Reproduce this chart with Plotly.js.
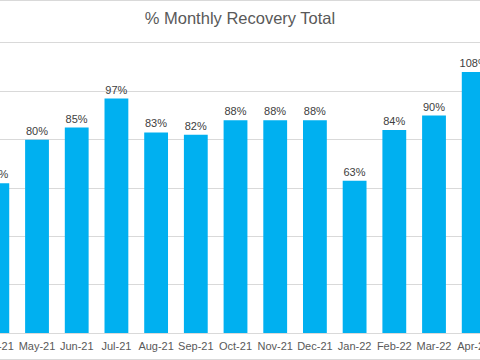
<!DOCTYPE html>
<html>
<head>
<meta charset="utf-8">
<script src="https://cdn.plot.ly/plotly-3.0.1.min.js"></script>
<style>
html,body{margin:0;padding:0;width:480px;height:360px;overflow:hidden;background:#fff;}
#wrap{position:absolute;left:0;top:0;width:480px;height:360px;overflow:hidden;}
#chart{position:absolute;left:-40px;top:0;width:560px;height:360px;}
#frame{position:absolute;left:0;top:0;width:480px;height:358px;border-top:1px solid #d9d9d9;border-bottom:1px solid #d9d9d9;pointer-events:none;}
</style>
</head>
<body>
<div id="wrap"><div id="chart"></div><div id="frame"></div></div>
<script>
const months = ["Apr-21","May-21","Jun-21","Jul-21","Aug-21","Sep-21","Oct-21","Nov-21","Dec-21","Jan-22","Feb-22","Mar-22","Apr-22"];
const recovery = [62, 80, 85, 97, 83, 82, 88, 88, 88, 63, 84, 90, 108];
const labels = recovery.map(v => v + "%");
const chartTitle = "% Monthly Recovery Total";

const trace = {
  type: "bar",
  x: months,
  y: recovery,
  text: labels,
  textposition: "outside",
  constraintext: "none",
  cliponaxis: false,
  textfont: {family: "Liberation Sans, Arial, sans-serif", size: 11, color: "#404040"},
  marker: {color: "#00b0f0"},
  hoverinfo: "skip"
};

const layout = {
  width: 560,
  height: 360,
  margin: {l: 0, r: 0, t: 43, b: 27},
  paper_bgcolor: "rgba(0,0,0,0)",
  plot_bgcolor: "rgba(0,0,0,0)",
  bargap: 0.4,
  showlegend: false,
  title: {
    text: chartTitle,
    x: 0.5, xref: "container", xanchor: "center",
    y: 0.95, yref: "container", yanchor: "middle",
    font: {family: "Liberation Sans, Arial, sans-serif", size: 16.5, color: "#595959"}
  },
  xaxis: {
    type: "category",
    range: [-0.94, 13.166],
    showgrid: false,
    showline: true,
    mirror: true,
    linecolor: "#d9d9d9",
    linewidth: 1,
    ticks: "",
    ticklabelstandoff: 3,
    tickfont: {family: "Liberation Sans, Arial, sans-serif", size: 11, color: "#595959"},
    tickangle: 0,
    fixedrange: true
  },
  yaxis: {
    range: [0, 120],
    dtick: 20,
    tick0: 0,
    showgrid: true,
    gridcolor: "#d9d9d9",
    gridwidth: 1,
    zeroline: false,
    showticklabels: false,
    ticks: "",
    fixedrange: true
  }
};

Plotly.newPlot("chart", [trace], layout, {displayModeBar: false, staticPlot: true});
</script>
</body>
</html>
